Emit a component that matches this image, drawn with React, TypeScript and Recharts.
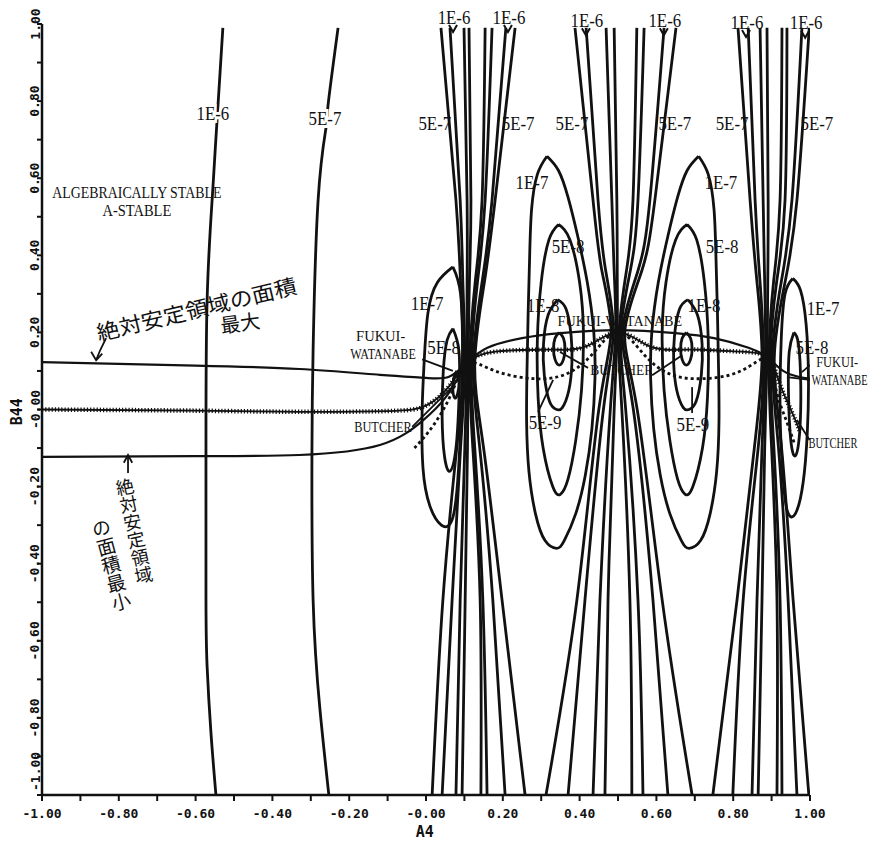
import React from 'react';
import { LineChart, Line, XAxis, YAxis, ReferenceDot } from 'recharts';

type Pt = [number, number];

// ---------- axes ----------
const xTicks = [-1, -0.9, -0.8, -0.7, -0.6, -0.5, -0.4, -0.3, -0.2, -0.1, 0, 0.1, 0.2, 0.3, 0.4, 0.5, 0.6, 0.7, 0.8, 0.9, 1];
const yTicks = [-1, -0.9, -0.8, -0.7, -0.6, -0.5, -0.4, -0.3, -0.2, -0.1, 0, 0.1, 0.2, 0.3, 0.4, 0.5, 0.6, 0.7, 0.8, 0.9, 1];
const xTickLabels = ['-1.00', '-0.80', '-0.60', '-0.40', '-0.20', '-0.00', '0.20', '0.40', '0.60', '0.80', '1.00'];
const yTickLabels = ['-1.00', '-0.80', '-0.60', '-0.40', '-0.20', '-0.00', '0.20', '0.40', '0.60', '0.80', '1.00'];

// ---------- left, nearly vertical contours ----------
const line1E6Left: Pt[] = [[-0.529, 0.99], [-0.549, 0.673], [-0.557, 0.543], [-0.57, 0.284], [-0.573, -0.105], [-0.573, -0.494], [-0.57, -0.667], [-0.56, -0.839], [-0.547, -1.0]];
const line5E7Left: Pt[] = [[-0.229, 0.99], [-0.255, 0.79], [-0.26, 0.733], [-0.281, 0.543], [-0.294, 0.154], [-0.297, -0.105], [-0.294, -0.494], [-0.276, -0.78], [-0.253, -1.0]];

// ---------- hourglass bundles (x of each line at the listed B44 levels) ----------
const leftBundleY = [0.99, 0.543, 0.33, 0.121, -0.1, -0.494, -1.0];
const leftBundleX = [
  [0.039, 0.078, 0.09, 0.097, 0.08, 0.044, 0.016],
  [0.0625, 0.089, 0.096, 0.101, 0.09, 0.068, 0.042],
  [0.099, 0.107, 0.107, 0.106, 0.101, 0.089, 0.078],
  [0.112, 0.117, 0.113, 0.11, 0.108, 0.102, 0.094],
  [0.154, 0.146, 0.128, 0.114, 0.122, 0.141, 0.143],
  [0.172, 0.154, 0.134, 0.118, 0.127, 0.148, 0.159],
  [0.208, 0.172, 0.146, 0.123, 0.14, 0.174, 0.206],
  [0.232, 0.18, 0.152, 0.127, 0.15, 0.198, 0.258],
];
const midBundleY = [0.99, 0.543, 0.36, 0.205, 0.0, -0.494, -1.0];
const midBundleX = [
  [0.388, 0.435, 0.458, 0.482, 0.45, 0.393, 0.3125],
  [0.417, 0.448, 0.468, 0.488, 0.462, 0.414, 0.37],
  [0.469, 0.484, 0.49, 0.494, 0.48, 0.453, 0.435],
  [0.49, 0.497, 0.498, 0.498, 0.49, 0.474, 0.466],
  [0.549, 0.539, 0.522, 0.503, 0.51, 0.531, 0.536],
  [0.568, 0.552, 0.532, 0.507, 0.52, 0.552, 0.565],
  [0.62, 0.583, 0.552, 0.512, 0.54, 0.591, 0.63],
  [0.651, 0.596, 0.562, 0.518, 0.55, 0.615, 0.693],
];
const rightBundleY = [0.99, 0.543, 0.33, 0.134, -0.1, -0.494, -1.0];
const rightBundleX = [
  [0.8125, 0.844, 0.862, 0.875, 0.855, 0.81, 0.747],
  [0.839, 0.857, 0.87, 0.879, 0.865, 0.826, 0.799],
  [0.87, 0.878, 0.882, 0.884, 0.875, 0.862, 0.849],
  [0.888, 0.891, 0.89, 0.888, 0.882, 0.875, 0.865],
  [0.927, 0.922, 0.905, 0.893, 0.9, 0.914, 0.914],
  [0.94, 0.935, 0.913, 0.897, 0.906, 0.922, 0.927],
  [0.979, 0.953, 0.925, 0.902, 0.918, 0.943, 0.966],
  [0.998, 0.966, 0.935, 0.907, 0.926, 0.956, 0.997],
];

// ---------- closed contours around the two minima ----------
const ellipse1E7Left: Pt[] = [[0.315, 0.657], [0.345, 0.62], [0.37, 0.55], [0.395, 0.45], [0.42, 0.33], [0.437, 0.2], [0.44, 0.08], [0.432, -0.05], [0.415, -0.17], [0.39, -0.27], [0.36, -0.34], [0.34, -0.36], [0.31, -0.34], [0.285, -0.27], [0.268, -0.16], [0.262, -0.03], [0.263, 0.1], [0.266, 0.25], [0.27, 0.4], [0.275, 0.52], [0.29, 0.61], [0.315, 0.657]];
const ellipse5E8Left: Pt[] = [[0.345, 0.48], [0.375, 0.44], [0.4, 0.33], [0.41, 0.2], [0.405, 0.05], [0.39, -0.08], [0.37, -0.18], [0.35, -0.22], [0.33, -0.2], [0.305, -0.1], [0.292, 0.03], [0.29, 0.18], [0.3, 0.33], [0.32, 0.44], [0.345, 0.48]];
const ellipse1E8Left: Pt[] = [[0.343, 0.285], [0.365, 0.26], [0.378, 0.19], [0.38, 0.12], [0.372, 0.05], [0.355, 0.005], [0.34, 0.0], [0.322, 0.02], [0.308, 0.09], [0.306, 0.17], [0.318, 0.245], [0.343, 0.285]];
const ellipse5E9Left: Pt[] = [[0.347, 0.2], [0.358, 0.185], [0.362, 0.157], [0.358, 0.13], [0.347, 0.115], [0.336, 0.13], [0.332, 0.157], [0.336, 0.185], [0.347, 0.2]];
const ellipse1E7Right: Pt[] = [[0.71, 0.657], [0.68, 0.62], [0.655, 0.55], [0.63, 0.45], [0.605, 0.33], [0.588, 0.2], [0.585, 0.08], [0.593, -0.05], [0.61, -0.17], [0.635, -0.27], [0.665, -0.34], [0.685, -0.36], [0.715, -0.34], [0.74, -0.27], [0.757, -0.16], [0.763, -0.03], [0.762, 0.1], [0.759, 0.25], [0.755, 0.4], [0.75, 0.52], [0.735, 0.61], [0.71, 0.657]];
const ellipse5E8Right: Pt[] = [[0.68, 0.48], [0.65, 0.44], [0.625, 0.33], [0.615, 0.2], [0.62, 0.05], [0.635, -0.08], [0.655, -0.18], [0.675, -0.22], [0.695, -0.2], [0.72, -0.1], [0.733, 0.03], [0.735, 0.18], [0.725, 0.33], [0.705, 0.44], [0.68, 0.48]];
const ellipse1E8Right: Pt[] = [[0.682, 0.285], [0.66, 0.26], [0.647, 0.19], [0.645, 0.12], [0.653, 0.05], [0.67, 0.005], [0.685, 0.0], [0.703, 0.02], [0.717, 0.09], [0.719, 0.17], [0.707, 0.245], [0.682, 0.285]];
const ellipse5E9Right: Pt[] = [[0.678, 0.2], [0.667, 0.185], [0.663, 0.157], [0.667, 0.13], [0.678, 0.115], [0.689, 0.13], [0.693, 0.157], [0.689, 0.185], [0.678, 0.2]];

// loops squeezed beside the outer saddles
const loop1E7Left: Pt[] = [[0.07, 0.37], [0.03, 0.33], [0.005, 0.25], [-0.005, 0.12], [-0.01, 0.0], [-0.008, -0.15], [0.01, -0.25], [0.04, -0.3], [0.07, -0.28], [0.085, -0.15], [0.092, 0.0], [0.095, 0.15], [0.09, 0.3], [0.07, 0.37]];
const loop5E8Left: Pt[] = [[0.07, 0.21], [0.055, 0.18], [0.045, 0.1], [0.042, -0.02], [0.048, -0.12], [0.062, -0.16], [0.078, -0.1], [0.086, 0.03], [0.086, 0.15], [0.07, 0.21]];
const loopSmallLeft: Pt[] = [[0.08, 0.1], [0.072, 0.08], [0.07, 0.05], [0.075, 0.03], [0.082, 0.04], [0.086, 0.07], [0.08, 0.1]];
const loop1E7Right: Pt[] = [[0.955, 0.34], [0.975, 0.31], [0.99, 0.22], [0.996, 0.08], [0.993, -0.06], [0.982, -0.19], [0.962, -0.27], [0.94, -0.26], [0.928, -0.15], [0.922, 0.0], [0.925, 0.18], [0.935, 0.3], [0.955, 0.34]];
const loop5E8Right: Pt[] = [[0.958, 0.2], [0.97, 0.17], [0.976, 0.06], [0.973, -0.06], [0.962, -0.12], [0.95, -0.08], [0.944, 0.04], [0.946, 0.15], [0.958, 0.2]];

// ---------- method curves ----------
const fukuiWatanabe: Pt[] = [[-1, 0.123], [-0.6, 0.114], [-0.33, 0.105], [-0.12, 0.09], [0.0, 0.082], [0.06, 0.085], [0.107, 0.121], [0.16, 0.16], [0.25, 0.185], [0.35, 0.198], [0.5, 0.206], [0.65, 0.198], [0.75, 0.185], [0.84, 0.16], [0.891, 0.134], [0.93, 0.1], [0.97, 0.085], [0.999, 0.08]];
const hatched: Pt[] = [[-1, 0.0], [-0.6, -0.003], [-0.33, -0.006], [-0.1, -0.004], [0.0, 0.01], [0.06, 0.06], [0.107, 0.121], [0.18, 0.15], [0.3, 0.155], [0.35, 0.155], [0.42, 0.165], [0.5, 0.2], [0.58, 0.165], [0.65, 0.155], [0.72, 0.155], [0.82, 0.15], [0.891, 0.134], [0.92, 0.07], [0.95, 0.0], [0.975, -0.06]];
const minArea: Pt[] = [[-1, -0.123], [-0.6, -0.121], [-0.33, -0.118], [-0.12, -0.092], [-0.01, -0.03], [0.05, 0.03], [0.107, 0.121]];
const butcher: Pt[] = [[-0.03, -0.1], [0.02, -0.04], [0.07, 0.05], [0.107, 0.121], [0.18, 0.1], [0.28, 0.08], [0.36, 0.09], [0.43, 0.14], [0.5, 0.2], [0.57, 0.14], [0.64, 0.09], [0.72, 0.08], [0.82, 0.1], [0.891, 0.134], [0.91, 0.06], [0.935, -0.02], [0.96, -0.09]];

// label leader lines
const pointers: Pt[][] = [
  [[-0.01, 0.13], [0.07, 0.1]],
  [[-0.036, -0.045], [0.068, 0.058]],
  [[0.422, 0.108], [0.349, 0.149]],
  [[0.589, 0.089], [0.667, 0.141]],
  [[0.292, -0.006], [0.331, 0.077]],
  [[0.693, -0.009], [0.693, 0.058]],
  [[1.0, 0.115], [0.979, 0.097]],
  [[1.0, 0.077], [0.94, 0.084]],
  [[0.999, -0.079], [0.966, -0.027]],
  // handwritten arrows
  [[-0.833, 0.185], [-0.848, 0.155], [-0.859, 0.128]],
  [[-0.872, 0.15], [-0.859, 0.128], [-0.843, 0.145]],
  [[-0.776, -0.165], [-0.776, -0.118]],
  [[-0.787, -0.138], [-0.776, -0.118], [-0.765, -0.138]],
];

// ---------- text ----------
const topLabels: [string, number, number][] = [['1E-6', 0.073, 1.018], ['1E-6', 0.216, 1.018], ['1E-6', 0.419, 1.01], ['1E-6', 0.622, 1.01], ['1E-6', 0.836, 1.005], ['1E-6', 0.99, 1.003]];
const haloLabels: [string, number, number][] = [['1E-6', -0.555, 0.769], ['5E-7', -0.263, 0.756]];
const levelLabels: [string, number, number][] = [
  ['5E-7', 0.023, 0.741], ['5E-7', 0.24, 0.741], ['5E-7', 0.38, 0.741], ['5E-7', 0.648, 0.741], ['5E-7', 0.797, 0.741], ['5E-7', 1.018, 0.741],
  ['1E-7', 0.276, 0.588], ['1E-7', 0.768, 0.588], ['1E-7', 0.003, 0.276], ['1E-7', 1.034, 0.263],
  ['5E-8', 0.37, 0.424], ['5E-8', 0.771, 0.424], ['5E-8', 0.046, 0.16], ['5E-8', 1.005, 0.162],
  ['1E-8', 0.305, 0.271], ['1E-8', 0.724, 0.271],
  ['5E-9', 0.31, -0.035], ['5E-9', 0.695, -0.04],
];
const stabilityLabels: [string, number, number][] = [['ALGEBRAICALLY STABLE', -0.753, 0.564], ['A-STABLE', -0.753, 0.516]];
const leftMethodLabels: [string, number, number][] = [['FUKUI-', -0.118, 0.19], ['WATANABE', -0.112, 0.145], ['BUTCHER', -0.112, -0.045]];
const rightLabels: [string, number, number][] = [['FUKUI-', 1.016, 0.123], ['WATANABE', 1.004, 0.077], ['BUTCHER', 0.996, -0.087]];
const midLabels: [string, number, number][] = [['FUKUI-WATANABE', 0.505, 0.227], ['BUTCHER', 0.51, 0.1]];

const rows = (pts: Pt[]) => pts.map(([x, y]) => ({ x, y }));
const bundle = (ys: number[], xs: number[][]) => xs.map((r) => r.map((x, i) => [x, ys[i]] as Pt));

const INK = '#111';
const SERIF = '"Liberation Serif", "DejaVu Serif", serif';
const MONO = '"DejaVu Sans Mono", "Liberation Mono", monospace';
const JP = '"Noto Sans CJK JP", sans-serif';

const XTick = (p: any) => {
  if (p.index % 2 !== 0) return <g />;
  return (
    <text x={p.x} y={p.y + 17} textAnchor="middle" fontFamily={MONO} fontWeight="bold" fontSize={13} fill={INK}>
      {xTickLabels[p.index / 2]}
    </text>
  );
};
const YTick = (p: any) => {
  if (p.index % 2 !== 0) return <g />;
  const cx = p.x - 2;
  const last = p.index === 0;
  const cy = last ? p.y - 4 : p.y;
  return (
    <text x={cx} y={cy} transform={`rotate(-90 ${cx} ${cy})`} textAnchor={last ? 'start' : 'middle'} dominantBaseline="central"
      fontFamily={MONO} fontWeight="bold" fontSize={13} fill={INK}>
      {yTickLabels[p.index / 2]}
    </text>
  );
};

const textShape = (text: string, opts: { anchor?: string; halo?: boolean; size?: number; cw?: number; arrow?: boolean }) => (p: any) => (
  <g>
    <text x={p.cx} y={p.cy} textAnchor={opts.anchor || 'middle'} dominantBaseline="central" fontFamily={SERIF}
      fontSize={opts.size || 19} fill={INK} textLength={text.length * (opts.cw || 8.2)} lengthAdjust="spacingAndGlyphs"
      stroke={opts.halo ? '#fff' : 'none'} strokeWidth={opts.halo ? 6 : 0} paintOrder="stroke">
      {text}
    </text>
    {opts.arrow ? <path d={`M${p.cx - 5},${p.cy + 8} L${p.cx - 1},${p.cy + 15} L${p.cx + 3},${p.cy + 8}`} stroke={INK} strokeWidth={2} fill="none" /> : null}
  </g>
);

const curve = (pts: Pt[], key: string, extra: any = {}) => (
  <Line key={key} data={rows(pts)} dataKey="y" type="natural" stroke={INK} strokeWidth={2.8} dot={false}
    isAnimationActive={false} legendType="none" {...extra} />
);

export default function App() {
  const bundles = [...bundle(leftBundleY, leftBundleX), ...bundle(midBundleY, midBundleX), ...bundle(rightBundleY, rightBundleX)];
  const closed = [ellipse1E7Left, ellipse5E8Left, ellipse1E8Left, ellipse5E9Left, ellipse1E7Right, ellipse5E8Right, ellipse1E8Right, ellipse5E9Right,
    loop1E7Left, loop5E8Left, loopSmallLeft, loop1E7Right, loop5E8Right];
  return (
    <LineChart width={872} height={833} margin={{ top: 16, right: 70, bottom: 0, left: 0 }}>
      <XAxis type="number" dataKey="x" domain={[-1, 1]} allowDataOverflow ticks={xTicks} interval={0} height={46}
        tickSize={6} tickMargin={0} axisLine={{ stroke: INK, strokeWidth: 2.5 }} tickLine={{ stroke: INK, strokeWidth: 2 }}
        tick={(p: any) => <XTick {...p} />} />
      <YAxis type="number" dataKey="y" domain={[-1, 1]} allowDataOverflow ticks={yTicks} interval={0} width={34}
        tickSize={5} tickMargin={0} axisLine={{ stroke: INK, strokeWidth: 2.5 }} tickLine={{ stroke: INK, strokeWidth: 2 }}
        tick={(p: any) => <YTick {...p} />} />

      {curve(line1E6Left, 'l1')}
      {curve(line5E7Left, 'l2')}
      {bundles.map((pts, i) => curve(pts, 'b' + i))}
      {closed.map((pts, i) => curve(pts, 'c' + i))}
      {curve(fukuiWatanabe, 'fw', { strokeWidth: 2.2 })}
      {curve(minArea, 'min', { strokeWidth: 2.2 })}
      {curve(hatched, 'h1', { strokeWidth: 1.8 })}
      {curve(hatched, 'h2', { strokeWidth: 4.5, strokeDasharray: '1.2 2' })}
      {curve(butcher, 'bu', { strokeWidth: 2.8, strokeDasharray: '3 3' })}
      {pointers.map((pts, i) => curve(pts, 'p' + i, { type: 'linear', strokeWidth: 1.8 }))}

      {topLabels.map(([t, x, y], i) => (
        <ReferenceDot key={'t' + i} x={x} y={y} r={0} ifOverflow="visible" shape={textShape(t, { arrow: true })} />
      ))}
      {haloLabels.map(([t, x, y], i) => (
        <ReferenceDot key={'hl' + i} x={x} y={y} r={0} ifOverflow="visible" shape={textShape(t, { halo: true })} />
      ))}
      {levelLabels.map(([t, x, y], i) => (
        <ReferenceDot key={'ll' + i} x={x} y={y} r={0} ifOverflow="visible" shape={textShape(t, {})} />
      ))}
      {stabilityLabels.map(([t, x, y], i) => (
        <ReferenceDot key={'sl' + i} x={x} y={y} r={0} ifOverflow="visible" shape={textShape(t, { size: 16, cw: i === 0 ? 8.45 : 8.6 })} />
      ))}
      {leftMethodLabels.map(([t, x, y], i) => (
        <ReferenceDot key={'lm' + i} x={x} y={y} r={0} ifOverflow="visible" shape={textShape(t, { size: 15 })} />
      ))}
      {rightLabels.map(([t, x, y], i) => (
        <ReferenceDot key={'rl' + i} x={x} y={y} r={0} ifOverflow="visible" shape={textShape(t, { anchor: 'start', cw: 7, size: 15 })} />
      ))}
      {midLabels.map(([t, x, y], i) => (
        <ReferenceDot key={'ml' + i} x={x} y={y} r={0} ifOverflow="visible" shape={textShape(t, { size: 14, cw: i === 0 ? 8.9 : 9 })} />
      ))}

      <ReferenceDot x={-0.003} y={-1.096} r={0} ifOverflow="visible" shape={(p: any) => (
        <text x={p.cx} y={p.cy} textAnchor="middle" dominantBaseline="central" fontFamily={MONO} fontWeight="bold" fontSize={15} fill={INK}>A4</text>
      )} />
      <ReferenceDot x={-1.065} y={-0.006} r={0} ifOverflow="visible" shape={(p: any) => (
        <text x={p.cx} y={p.cy} transform={`rotate(-90 ${p.cx} ${p.cy})`} textAnchor="middle" dominantBaseline="central"
          fontFamily={MONO} fontWeight="bold" fontSize={15} fill={INK}>B44</text>
      )} />

      <ReferenceDot x={-0.852} y={0.178} r={0} ifOverflow="visible" shape={(p: any) => (
        <text x={p.cx} y={p.cy} transform={`rotate(-13.5 ${p.cx} ${p.cy})`} fontFamily={JP} fontSize={21} fill={INK}
          textLength={205} lengthAdjust="spacingAndGlyphs">絶対安定領域の面積</text>
      )} />
      <ReferenceDot x={-0.484} y={0.227} r={0} ifOverflow="visible" shape={(p: any) => (
        <text x={p.cx} y={p.cy} transform={`rotate(-8 ${p.cx} ${p.cy})`} textAnchor="middle" dominantBaseline="central"
          fontFamily={JP} fontSize={20} fill={INK}>最大</text>
      )} />
      <ReferenceDot x={-0.789} y={-0.178} r={0} ifOverflow="visible" shape={(p: any) => (
        <text x={p.cx} y={p.cy} transform={`rotate(-12 ${p.cx} ${p.cy})`} style={{ writingMode: 'vertical-rl' }}
          fontFamily={JP} fontSize={18} fill={INK}>絶対安定領域</text>
      )} />
      <ReferenceDot x={-0.852} y={-0.284} r={0} ifOverflow="visible" shape={(p: any) => (
        <text x={p.cx} y={p.cy} transform={`rotate(-15 ${p.cx} ${p.cy})`} style={{ writingMode: 'vertical-rl' }}
          fontFamily={JP} fontSize={19} fill={INK}>の面積最小</text>
      )} />
    </LineChart>
  );
}
